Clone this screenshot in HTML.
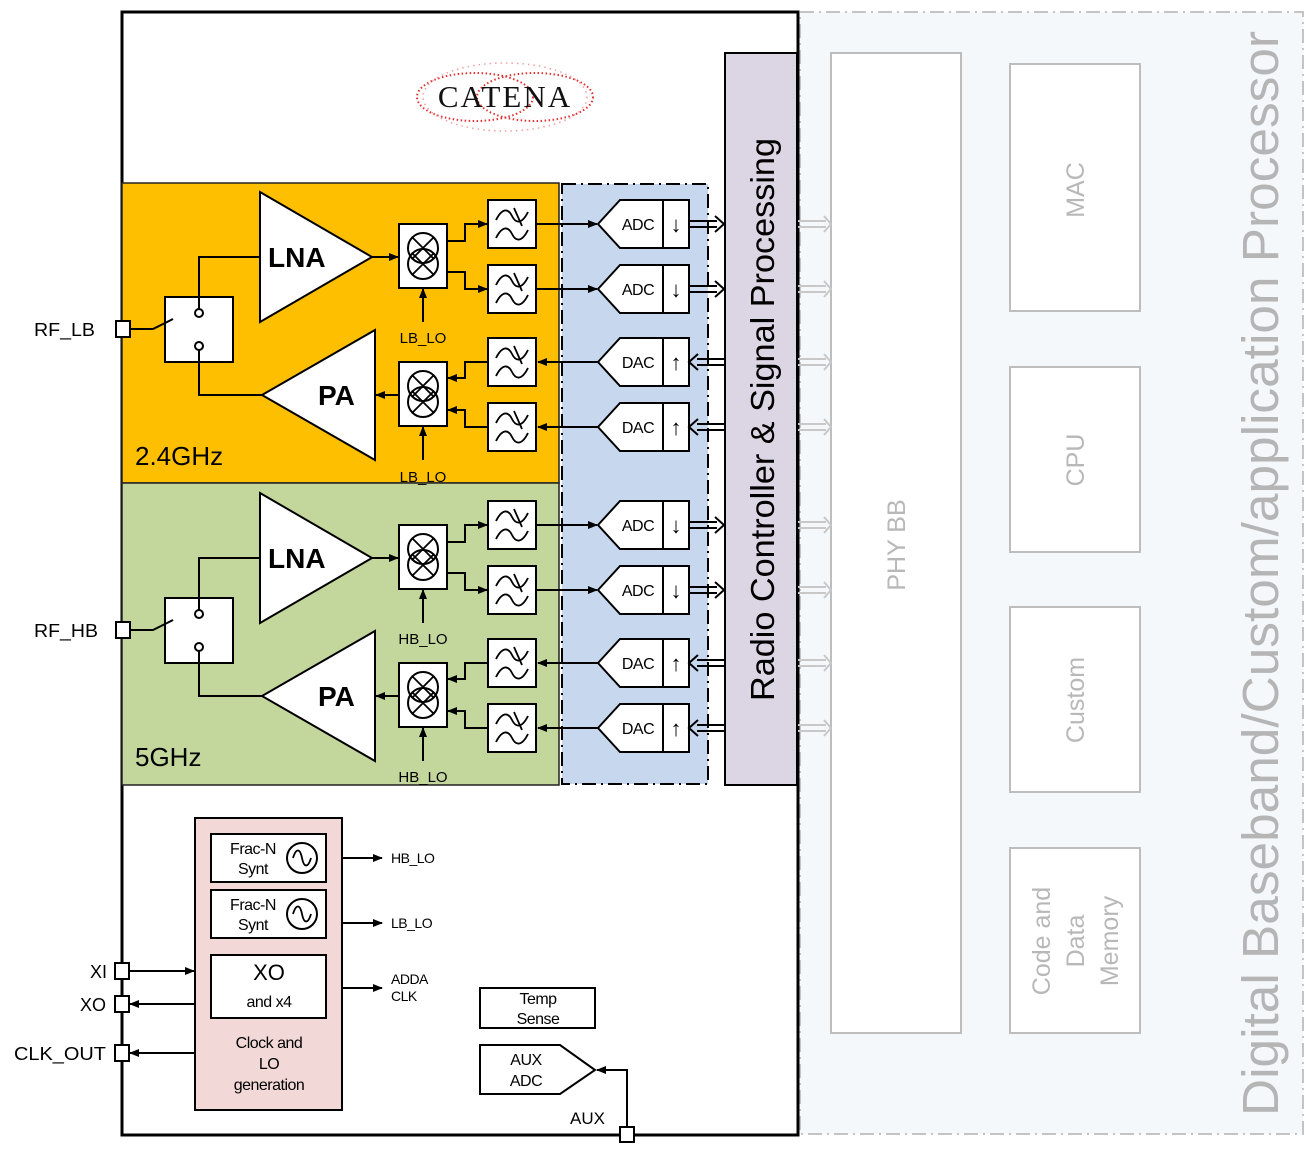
<!DOCTYPE html>
<html><head><meta charset="utf-8"><style>
html,body{margin:0;padding:0;background:#fff;}
svg{display:block;font-family:"Liberation Sans",Arial,sans-serif;}
</style></head><body>
<svg width="1313" height="1152" viewBox="0 0 1313 1152" xmlns="http://www.w3.org/2000/svg">
<defs>
<marker id="ar" markerWidth="10" markerHeight="10" refX="9" refY="5" orient="auto" markerUnits="userSpaceOnUse"><path d="M0,1 L10,5 L0,9 Z" fill="#000"/></marker>
<g id="filt"><rect x="0" y="0" width="48" height="48" fill="#fff" stroke="#000" stroke-width="2"/>
<path d="M8,20 C14,8 20,8 24,16 C28,24 34,24 40,12" fill="none" stroke="#000" stroke-width="1.8"/>
<path d="M8,38 C14,26 20,26 24,34 C28,42 34,42 40,30" fill="none" stroke="#000" stroke-width="1.8"/>
<path d="M26,8 L34,26" stroke="#000" stroke-width="1.8"/></g>
<g id="mix"><rect x="0" y="0" width="48" height="64" fill="#fff" stroke="#000" stroke-width="2"/>
<circle cx="24" cy="24" r="15" fill="none" stroke="#000" stroke-width="2"/>
<circle cx="24" cy="40" r="15" fill="none" stroke="#000" stroke-width="2"/>
<path d="M13,13 L35,35 M35,13 L13,35 M13,29 L35,51 M35,29 L13,51" stroke="#000" stroke-width="1.8"/></g>
<g id="conv"><path d="M0,24 L22,0 L91,0 L91,48 L22,48 Z" fill="#fff" stroke="#000" stroke-width="2"/><line x1="65" y1="0" x2="65" y2="48" stroke="#000" stroke-width="2"/></g>
<g id="dblR"><path d="M0,-3 L28,-3 M0,3 L28,3" stroke="#000" stroke-width="2"/><path d="M26,-8 L35,0 L26,8" fill="none" stroke="#000" stroke-width="2"/></g>
<g id="dblL"><path d="M8,-3 L35,-3 M8,3 L35,3" stroke="#000" stroke-width="2"/><path d="M9,-8 L0,0 L9,8" fill="none" stroke="#000" stroke-width="2"/></g>
<g id="gdbl"><path d="M0,-3 L28,-3 M0,3 L28,3" stroke="#c8c8c8" stroke-width="2"/><path d="M26,-8 L33,0 L26,8" fill="none" stroke="#c8c8c8" stroke-width="2"/></g>
<g id="band">
<rect x="116" y="321" width="14" height="16" fill="#fff" stroke="#000" stroke-width="2"/>
<rect x="165" y="297" width="68" height="65" fill="#fff" stroke="#000" stroke-width="2"/>
<path d="M130,329 L153,329 L173,319" fill="none" stroke="#000" stroke-width="2"/>
<circle cx="199" cy="313" r="4" fill="#fff" stroke="#000" stroke-width="2"/>
<circle cx="199" cy="346" r="4" fill="#fff" stroke="#000" stroke-width="2"/>
<path d="M199,309 L199,257 L260,257" fill="none" stroke="#000" stroke-width="2"/>
<path d="M199,350 L199,395 L262,395" fill="none" stroke="#000" stroke-width="2"/>
<path d="M260,192 L260,322 L372,257 Z" fill="#fff" stroke="#000" stroke-width="2"/>
<path d="M375,330 L375,460 L262,395 Z" fill="#fff" stroke="#000" stroke-width="2"/>
<line x1="372" y1="257" x2="398" y2="257" stroke="#000" stroke-width="2" marker-end="url(#ar)"/>
<line x1="399" y1="395" x2="376" y2="395" stroke="#000" stroke-width="2" marker-end="url(#ar)"/>
<use href="#mix" x="399" y="224"/>
<use href="#mix" x="399" y="362"/>
<line x1="423" y1="322" x2="423" y2="289" stroke="#000" stroke-width="2" marker-end="url(#ar)"/>
<line x1="423" y1="460" x2="423" y2="427" stroke="#000" stroke-width="2" marker-end="url(#ar)"/>
<path d="M447,241 L465,241 L465,224 L487,224" fill="none" stroke="#000" stroke-width="2" marker-end="url(#ar)"/>
<path d="M447,272 L465,272 L465,289 L487,289" fill="none" stroke="#000" stroke-width="2" marker-end="url(#ar)"/>
<path d="M488,362 L465,362 L465,378 L448,378" fill="none" stroke="#000" stroke-width="2" marker-end="url(#ar)"/>
<path d="M488,427 L465,427 L465,410 L448,410" fill="none" stroke="#000" stroke-width="2" marker-end="url(#ar)"/>
<use href="#filt" x="488" y="200"/><use href="#filt" x="488" y="265"/>
<use href="#filt" x="488" y="338"/><use href="#filt" x="488" y="403"/>
<line x1="537" y1="224" x2="597" y2="224" stroke="#000" stroke-width="2" marker-end="url(#ar)"/>
<line x1="537" y1="289" x2="597" y2="289" stroke="#000" stroke-width="2" marker-end="url(#ar)"/>
<line x1="598" y1="362" x2="538" y2="362" stroke="#000" stroke-width="2" marker-end="url(#ar)"/>
<line x1="598" y1="427" x2="538" y2="427" stroke="#000" stroke-width="2" marker-end="url(#ar)"/>
<use href="#conv" x="598" y="200"/><use href="#conv" x="598" y="265"/>
<use href="#conv" x="598" y="338"/><use href="#conv" x="598" y="403"/>
<use href="#dblR" x="689" y="224"/><use href="#dblR" x="689" y="289"/>
<use href="#dblL" x="689" y="362"/><use href="#dblL" x="689" y="427"/>
<use href="#gdbl" x="798" y="224"/><use href="#gdbl" x="798" y="289"/>
<use href="#gdbl" x="798" y="362"/><use href="#gdbl" x="798" y="427"/>
</g>
</defs>

<rect x="800" y="12" width="503" height="1122" fill="#f4f8fb" stroke="#c4c4c4" stroke-width="2" stroke-dasharray="14,5,2,5"/>
<rect x="831" y="53" width="130" height="980" fill="#fff" stroke="#bdbdbd" stroke-width="2"/>
<text transform="translate(905,545) rotate(-90)" text-anchor="middle" font-size="25" fill="#b8b8b8">PHY BB</text>
<rect x="1010" y="64" width="130" height="247" fill="#fff" stroke="#bdbdbd" stroke-width="2"/>
<text transform="translate(1084,190) rotate(-90)" text-anchor="middle" font-size="25" fill="#b8b8b8">MAC</text>
<rect x="1010" y="367" width="130" height="185" fill="#fff" stroke="#bdbdbd" stroke-width="2"/>
<text transform="translate(1084,460) rotate(-90)" text-anchor="middle" font-size="25" fill="#b8b8b8">CPU</text>
<rect x="1010" y="607" width="130" height="185" fill="#fff" stroke="#bdbdbd" stroke-width="2"/>
<text transform="translate(1084,700) rotate(-90)" text-anchor="middle" font-size="25" fill="#b8b8b8">Custom</text>
<rect x="1010" y="848" width="130" height="185" fill="#fff" stroke="#bdbdbd" stroke-width="2"/>
<text transform="translate(1050,941) rotate(-90)" text-anchor="middle" font-size="25" fill="#b8b8b8">Code and</text>
<text transform="translate(1084,941) rotate(-90)" text-anchor="middle" font-size="25" fill="#b8b8b8">Data</text>
<text transform="translate(1118,941) rotate(-90)" text-anchor="middle" font-size="25" fill="#b8b8b8">Memory</text>
<text transform="translate(1278,1116) rotate(-90)" font-size="51" fill="#b5b5b5" textLength="1085" lengthAdjust="spacingAndGlyphs">Digital Baseband/Custom/application Processor</text>

<rect x="122" y="12" width="676" height="1123" fill="#fff" stroke="#000" stroke-width="3"/>
<rect x="122" y="183" width="437" height="300" fill="#fdbf00" stroke="#222" stroke-width="1.5"/>
<rect x="122" y="483" width="437" height="302" fill="#c3d69c" stroke="#222" stroke-width="1.5"/>
<rect x="562" y="184" width="146" height="600" fill="#c6d7ee" stroke="#000" stroke-width="2" stroke-dasharray="14,5,2,5"/>
<rect x="725" y="53" width="72" height="732" fill="#dcd6e4" stroke="#000" stroke-width="2"/>
<text transform="translate(774,701) rotate(-90)" font-size="33" fill="#000" textLength="563" lengthAdjust="spacingAndGlyphs">Radio Controller &amp; Signal Processing</text>

<g>
<ellipse cx="475" cy="97" rx="58" ry="24" fill="none" stroke="#e03030" stroke-width="2" stroke-dasharray="1.5,2.5"/>
<ellipse cx="535" cy="97" rx="58" ry="24" fill="none" stroke="#e03030" stroke-width="2" stroke-dasharray="1.5,2.5"/>
<ellipse cx="505" cy="97" rx="82" ry="34" fill="none" stroke="#f0a0a0" stroke-width="1.5" stroke-dasharray="1.5,4"/>
</g>
<text x="505" y="107" text-anchor="middle" font-family="Liberation Serif,serif" font-size="31" letter-spacing="2" fill="#111">CATENA</text>

<use href="#band"/>
<use href="#band" y="301"/>

<g font-size="18" fill="#000">
<text x="34" y="336" textLength="61" lengthAdjust="spacingAndGlyphs">RF_LB</text>
<text x="34" y="637" textLength="64" lengthAdjust="spacingAndGlyphs">RF_HB</text>
</g>
<g font-size="28" font-weight="bold" fill="#000">
<text x="268" y="267">LNA</text><text x="318" y="405">PA</text>
<text x="268" y="568">LNA</text><text x="318" y="706">PA</text>
</g>
<text x="135" y="465" font-size="26" fill="#000">2.4GHz</text>
<text x="135" y="766" font-size="26" fill="#000">5GHz</text>
<g font-size="15" text-anchor="middle" fill="#000">
<text x="423" y="343">LB_LO</text><text x="423" y="482">LB_LO</text>
<text x="423" y="644">HB_LO</text><text x="423" y="782">HB_LO</text>
</g>
<g font-size="16" text-anchor="middle" fill="#000" letter-spacing="-0.5">
<text x="638" y="230">ADC</text><text x="638" y="295">ADC</text>
<text x="638" y="368">DAC</text><text x="638" y="433">DAC</text>
<text x="638" y="531">ADC</text><text x="638" y="596">ADC</text>
<text x="638" y="669">DAC</text><text x="638" y="734">DAC</text>
</g>
<g font-size="22" text-anchor="middle" fill="#000">
<text x="676" y="232">↓</text><text x="676" y="297">↓</text>
<text x="676" y="370">↑</text><text x="676" y="435">↑</text>
<text x="676" y="533">↓</text><text x="676" y="598">↓</text>
<text x="676" y="671">↑</text><text x="676" y="736">↑</text>
</g>

<rect x="195" y="818" width="147" height="292" fill="#f2d9d7" stroke="#000" stroke-width="2"/>
<rect x="211" y="834" width="115" height="48" fill="#fff" stroke="#000" stroke-width="2"/>
<rect x="211" y="890" width="115" height="48" fill="#fff" stroke="#000" stroke-width="2"/>
<rect x="211" y="955" width="115" height="63" fill="#fff" stroke="#000" stroke-width="2"/>
<circle cx="302" cy="858" r="15" fill="none" stroke="#000" stroke-width="2"/>
<circle cx="302" cy="914" r="15" fill="none" stroke="#000" stroke-width="2"/>
<path d="M293,858 C296,848 300,848 302,858 C304,868 308,868 311,858" fill="none" stroke="#000" stroke-width="1.8"/>
<path d="M293,914 C296,904 300,904 302,914 C304,924 308,924 311,914" fill="none" stroke="#000" stroke-width="1.8"/>
<g font-size="16" fill="#000" text-anchor="middle" letter-spacing="-0.5">
<text x="253" y="854">Frac-N</text><text x="253" y="874">Synt</text>
<text x="253" y="910">Frac-N</text><text x="253" y="930">Synt</text>
<text x="269" y="1007">and x4</text>
<text x="269" y="1048">Clock and</text><text x="269" y="1069">LO</text><text x="269" y="1090">generation</text>
</g>
<text x="269" y="980" font-size="22" text-anchor="middle" fill="#000">XO</text>
<line x1="342" y1="858" x2="382" y2="858" stroke="#000" stroke-width="2" marker-end="url(#ar)"/>
<line x1="342" y1="923" x2="382" y2="923" stroke="#000" stroke-width="2" marker-end="url(#ar)"/>
<line x1="342" y1="988" x2="382" y2="988" stroke="#000" stroke-width="2" marker-end="url(#ar)"/>
<g font-size="14" fill="#000" letter-spacing="-0.5">
<text x="391" y="863">HB_LO</text><text x="391" y="928">LB_LO</text>
<text x="391" y="984">ADDA</text><text x="391" y="1001">CLK</text>
</g>
<rect x="115" y="963" width="14" height="16" fill="#fff" stroke="#000" stroke-width="2"/>
<rect x="115" y="996" width="14" height="16" fill="#fff" stroke="#000" stroke-width="2"/>
<rect x="115" y="1045" width="14" height="16" fill="#fff" stroke="#000" stroke-width="2"/>
<line x1="129" y1="971" x2="194" y2="971" stroke="#000" stroke-width="2" marker-end="url(#ar)"/>
<line x1="195" y1="1004" x2="130" y2="1004" stroke="#000" stroke-width="2" marker-end="url(#ar)"/>
<line x1="195" y1="1053" x2="130" y2="1053" stroke="#000" stroke-width="2" marker-end="url(#ar)"/>
<g font-size="18" fill="#000" text-anchor="end">
<text x="107" y="978">XI</text><text x="106" y="1011">XO</text><text x="106" y="1060" textLength="92" lengthAdjust="spacingAndGlyphs">CLK_OUT</text>
</g>
<rect x="480" y="988" width="115" height="40" fill="#fff" stroke="#000" stroke-width="2"/>
<path d="M480,1045 L560,1045 L595,1070 L560,1094 L480,1094 Z" fill="#fff" stroke="#000" stroke-width="2"/>
<g font-size="16" fill="#000" text-anchor="middle" letter-spacing="-0.5">
<text x="538" y="1004">Temp</text><text x="538" y="1024">Sense</text>
<text x="526" y="1065">AUX</text><text x="526" y="1086">ADC</text>
</g>
<path d="M627,1127 L627,1070 L597,1070" fill="none" stroke="#000" stroke-width="2" marker-end="url(#ar)"/>
<rect x="620" y="1127" width="14" height="15" fill="#fff" stroke="#000" stroke-width="2"/>
<text x="570" y="1124" font-size="17" fill="#000">AUX</text>
</svg>
</body></html>
